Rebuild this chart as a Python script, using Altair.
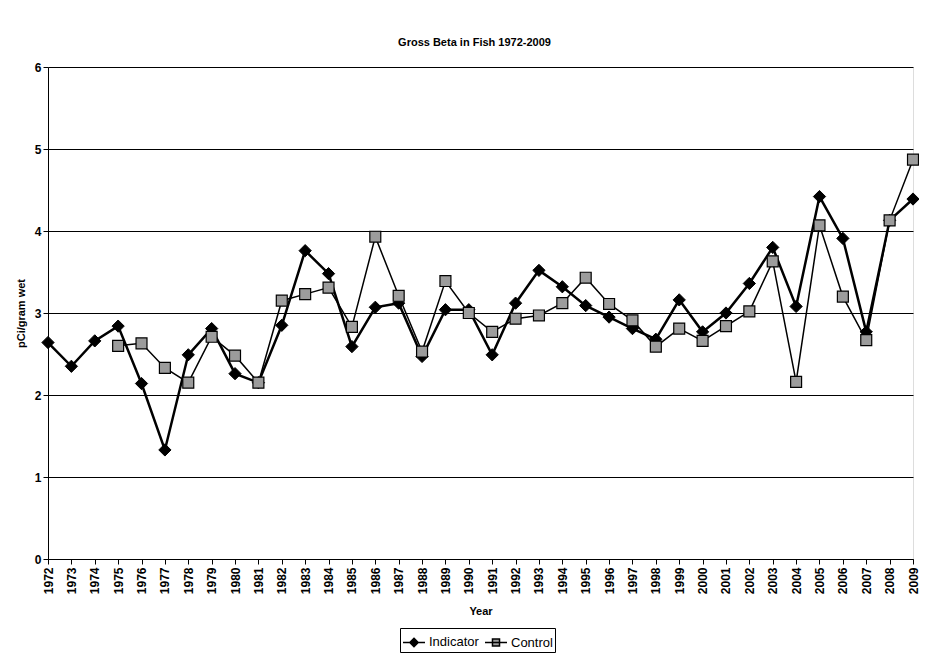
import altair as alt
import pandas as pd

years = [1972, 1973, 1974, 1975, 1976, 1977, 1978, 1979, 1980, 1981,
         1982, 1983, 1984, 1985, 1986, 1987, 1988, 1989, 1990, 1991,
         1992, 1993, 1994, 1995, 1996, 1997, 1998, 1999, 2000, 2001,
         2002, 2003, 2004, 2005, 2006, 2007, 2008, 2009]

indicator = [2.64, 2.35, 2.66, 2.84, 2.14, 1.33, 2.49, 2.81, 2.26, 2.15,
             2.85, 3.76, 3.48, 2.59, 3.07, 3.12, 2.47, 3.04, 3.04, 2.49,
             3.12, 3.52, 3.32, 3.09, 2.95, 2.81, 2.68, 3.16, 2.77, 3.00,
             3.36, 3.80, 3.08, 4.42, 3.91, 2.77, 4.13, 4.39]

control = [None, None, None, 2.60, 2.63, 2.33, 2.15, 2.71, 2.48, 2.15,
           3.15, 3.23, 3.31, 2.83, 3.93, 3.21, 2.53, 3.39, 3.00, 2.77,
           2.93, 2.97, 3.12, 3.43, 3.11, 2.91, 2.59, 2.81, 2.66, 2.84,
           3.02, 3.63, 2.16, 4.07, 3.20, 2.67, 4.13, 4.87]

series_names = ["Indicator", "Control"]
y_ticks = [0, 1, 2, 3, 4, 5, 6]

rows = []
for name, vals in zip(series_names, [indicator, control]):
    for yr, v in zip(years, vals):
        if v is not None:
            rows.append({"year": yr, "value": v, "series": name, "key": name})
df = pd.DataFrame(rows)

FONT = "Liberation Sans"

x_enc = alt.X(
    "year:Q",
    scale=alt.Scale(domain=[years[0], years[-1]], nice=False, zero=False),
    axis=alt.Axis(
        values=years, format="d", labelAngle=270, labelFont=FONT,
        labelFontSize=12, labelFontWeight="bold", labelColor="black",
        tickColor="black", tickSize=5, domainColor="black", grid=False,
        title="Year", titleFont=FONT, titleFontSize=11, titleFontWeight="bold",
        titleColor="black", titlePadding=12, labelPadding=3,
    ),
)
y_enc = alt.Y(
    "value:Q",
    scale=alt.Scale(domain=[0, 6], nice=False),
    axis=alt.Axis(
        values=y_ticks, format="d", labelFont=FONT, labelFontSize=12,
        labelFontWeight="bold", labelColor="black", tickColor="black",
        tickSize=5, domainColor="black", grid=True, gridColor="black",
        gridOpacity=1, gridWidth=1,
        title="pCi/gram wet", titleFont=FONT, titleFontSize=11,
        titleFontWeight="bold", titleColor="black", titlePadding=8,
    ),
)

base = alt.Chart(df)

line_ind = base.transform_filter(alt.datum.series == "Indicator").mark_line(
    color="black", strokeWidth=2.5
).encode(x=x_enc, y=y_enc)

line_ctl = base.transform_filter(alt.datum.series == "Control").mark_line(
    color="black", strokeWidth=1.5
).encode(x=x_enc, y=y_enc)

points_ind = base.transform_filter(alt.datum.series == "Indicator").mark_point(
    shape="diamond", filled=True, fill="black", stroke="black",
    strokeWidth=1, opacity=1, size=150
).encode(x=x_enc, y=y_enc)

points_ctl = base.transform_filter(alt.datum.series == "Control").mark_point(
    shape="square", filled=True, fill="#9c9c9c", stroke="black",
    strokeWidth=1.2, opacity=1, size=120
).encode(x=x_enc, y=y_enc)

# legend-only layer (zero-size marks) giving "line + marker" legend symbols
legend_paths = [
    "M-1,0H1M0,-0.38L0.38,0L0,0.38L-0.38,0Z",
    "M-1,0H1M-0.32,-0.32H0.32V0.32H-0.32Z",
]
legend_props = dict(
    title=None, orient="none", legendX=352, legendY=561,
    direction="horizontal", strokeColor="black", padding=2,
    labelFont=FONT, labelFontSize=13, labelColor="black",
    symbolSize=484, symbolStrokeWidth=1.5,
    symbolOpacity=1, columnPadding=3, labelOffset=3,
)
legend_layer = base.mark_point(
    filled=False, size=0, opacity=1, strokeWidth=1.5
).encode(
    x=x_enc,
    y=y_enc,
    shape=alt.Shape(
        "key:N",
        scale=alt.Scale(domain=series_names, range=legend_paths),
        legend=alt.Legend(**legend_props),
    ),
    fill=alt.Fill(
        "key:N",
        scale=alt.Scale(domain=series_names, range=["black", "#9c9c9c"]),
        legend=alt.Legend(**legend_props),
    ),
    stroke=alt.Stroke(
        "key:N",
        scale=alt.Scale(domain=series_names, range=["black", "black"]),
        legend=alt.Legend(**legend_props),
    ),
)

chart = (
    alt.layer(line_ind, line_ctl, points_ind, points_ctl, legend_layer)
    .properties(
        width=865,
        height=492,
        autosize=alt.AutoSizeParams(type="none"),
        padding={"left": 40, "top": 59, "right": 6, "bottom": 99},
        title=alt.TitleParams(
            "Gross Beta in Fish 1972-2009", font=FONT, fontSize=11,
            fontWeight="bold", color="black", anchor="middle", offset=13, dx=-6,
        ),
    )
    .configure_view(stroke="black", strokeWidth=1)
    .configure(background="white")
)

chart.save("out.html", embed_options={"renderer": "svg", "actions": False})
